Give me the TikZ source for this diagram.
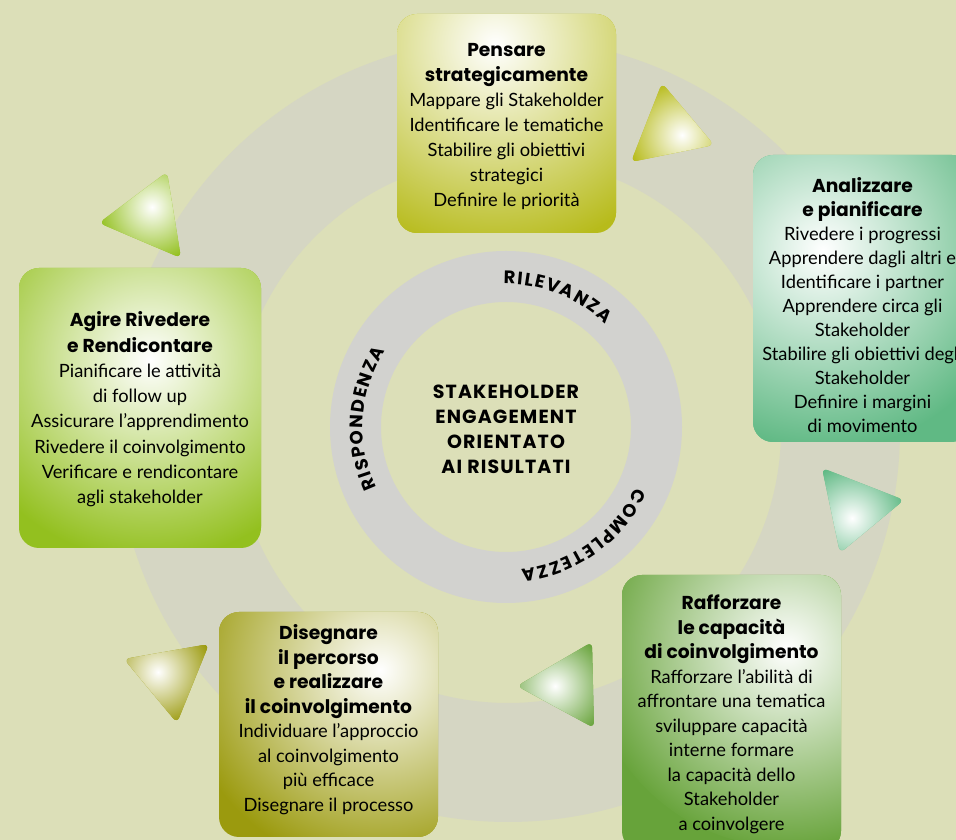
\documentclass[tikz,border=0pt]{standalone}
\usepackage{fontspec}
\setmainfont{Lato}
\newfontfamily\headfont{Poppins}
\newfontfamily\corefont{Poppins}[LetterSpace=6]
\usetikzlibrary{decorations.text}
\definecolor{bgBeige}{HTML}{DCDFB8}
\definecolor{bandGrey}{HTML}{D5D6C3}
\definecolor{ringGrey}{HTML}{D2D2CF}
\definecolor{cOlive}{HTML}{B7BB1B}
\definecolor{cMint}{HTML}{60B984}
\definecolor{cLime}{HTML}{93C01F}
\definecolor{cLeaf}{HTML}{67A33A}
\definecolor{cMoss}{HTML}{9B9A0E}
\newcommand{\hd}{\headfont\bfseries\fontsize{18.7}{25}\selectfont}
\newcommand{\ringfont}{\headfont\bfseries\fontsize{18}{18}\selectfont}

\begin{document}
\begin{tikzpicture}[x=1pt,y=1pt,
  card/.style={rounded corners=20pt,minimum width=219pt,inner sep=0pt},
  cardtext/.style={align=center,inner sep=0pt,font=\fontsize{18.3}{24.5}\selectfont},
  glow/.style n args={3}{fill=#1,path picture={\shade[inner color=white,outer color=#1] (#2) circle (#3);}},
  tip/.style={rounded corners=6pt}
]
\useasboundingbox (0,0) rectangle (956,840);
\clip (0,0) rectangle (956,840);
\fill[bgBeige] (0,0) rectangle (956,840);

% rings
\coordinate (loop) at (508,410);
\coordinate (hub) at (506,413);
\fill[bandGrey,even odd rule] (loop) circle (392pt) (loop) circle (273pt);
\fill[ringGrey,even odd rule] (hub) circle (176pt) (hub) circle (125pt);

% glow centres
\coordinate (g1) at (495,795);
\coordinate (g2) at (823,590);
\coordinate (g3) at (787,193);
\coordinate (g4) at (380,170);
\coordinate (g5) at (150,480);

% cards
\node[card,glow={cOlive}{g1}{210pt},minimum height=219pt] (pensare) at (506.5,716.5) {};
\node[card,glow={cMint}{g2}{200pt},minimum height=287pt] (analisi) at (862.5,541.5) {};
\node[card,glow={cLeaf}{g3}{200pt},minimum height=276pt] (capacita) at (731.5,127) {};
\node[card,glow={cMoss}{g4}{200pt},minimum height=225pt] (percorso) at (328.5,115.5) {};
\node[card,glow={cLime}{g5}{200pt},minimum width=242pt,minimum height=280pt] (agire) at (140,432) {};

\node[cardtext,font=\fontsize{18.3}{25}\selectfont] (pensare-txt) at (506.5,713.5) {%
  \hd Pensare\\\hd strategicamente\\Mappare gli Stakeholder\\Identificare le tematiche\\
  Stabilire gli obiettivi\\strategici\\Definire le priorità};
\node[cardtext,font=\fontsize{18.3}{24}\selectfont] (analisi-txt) at (862.5,535) {%
  \hd Analizzare\\\hd e pianificare\\Rivedere i progressi\\Apprendere dagli altri e\\
  Identificare i partner\\Apprendere circa gli\\Stakeholder\\Stabilire gli obiettivi degli\\
  Stakeholder\\Definire i margini\\di movimento};
\node[cardtext] (capacita-txt) at (731.5,125.5) {%
  \hd Rafforzare\\\hd le capacità\\\hd di coinvolgimento\\Rafforzare l'abilità di\\
  affrontare una tematica\\sviluppare capacità\\interne formare\\la capacità dello\\
  Stakeholder\\a coinvolgere};
\node[cardtext] (percorso-txt) at (328.5,120.5) {%
  \hd Disegnare\\\hd il percorso\\\hd e realizzare\\\hd il coinvolgimento\\Individuare l'approccio\\
  al coinvolgimento\\più efficace\\Disegnare il processo};
\node[cardtext,font=\fontsize{18.3}{25.3}\selectfont] (agire-txt) at (140,430.5) {%
  \hd Agire Rivedere\\\hd e Rendicontare\\Pianificare le attività\\di follow up\\
  Assicurare l'apprendimento\\Rivedere il coinvolgimento\\Verificare e rendicontare\\agli stakeholder};

% arrow heads between the cards
\coordinate (h1) at (682,705);
\coordinate (h2) at (852,322);
\coordinate (h3) at (555,154);
\coordinate (h4) at (158,168);
\coordinate (h5) at (152,633);
\path[tip,glow={cOlive}{h1}{55pt}] (662,757) -- (714,695) -- (631,678) -- cycle;
\path[tip,glow={cMint}{h2}{55pt}] (822,372) -- (904,340) -- (840,287) -- cycle;
\path[tip,glow={cLeaf}{h3}{55pt}] (592,198) -- (594,112) -- (517,154) -- cycle;
\path[tip,glow={cMoss}{h4}{55pt}] (124,181) -- (209,196) -- (177,117) -- cycle;
\path[tip,glow={cLime}{h5}{55pt}] (99,617) -- (167,668) -- (181,582) -- cycle;

% centre
\node[align=center,font=\corefont\bfseries\fontsize{19}{25}\selectfont] (core) at (506,411)
  {STAKEHOLDER\\ENGAGEMENT\\ORIENTATO\\AI RISULTATI};
\path[decorate,decoration={text along path,text align={fit to path},text={|\ringfont|RILEVANZA}}]
  ([shift={(91:143pt)}]hub) arc[start angle=91,end angle=46,radius=143pt];
\path[decorate,decoration={text along path,text align={fit to path},text={|\ringfont|COMPLETEZZA}}]
  ([shift={(-25:143pt)}]hub) arc[start angle=-25,end angle=-84,radius=143pt];
\path[decorate,decoration={text along path,text align={fit to path},text={|\ringfont|RISPONDENZA}}]
  ([shift={(205:143pt)}]hub) arc[start angle=205,end angle=148,radius=143pt];
\end{tikzpicture}
\end{document}
